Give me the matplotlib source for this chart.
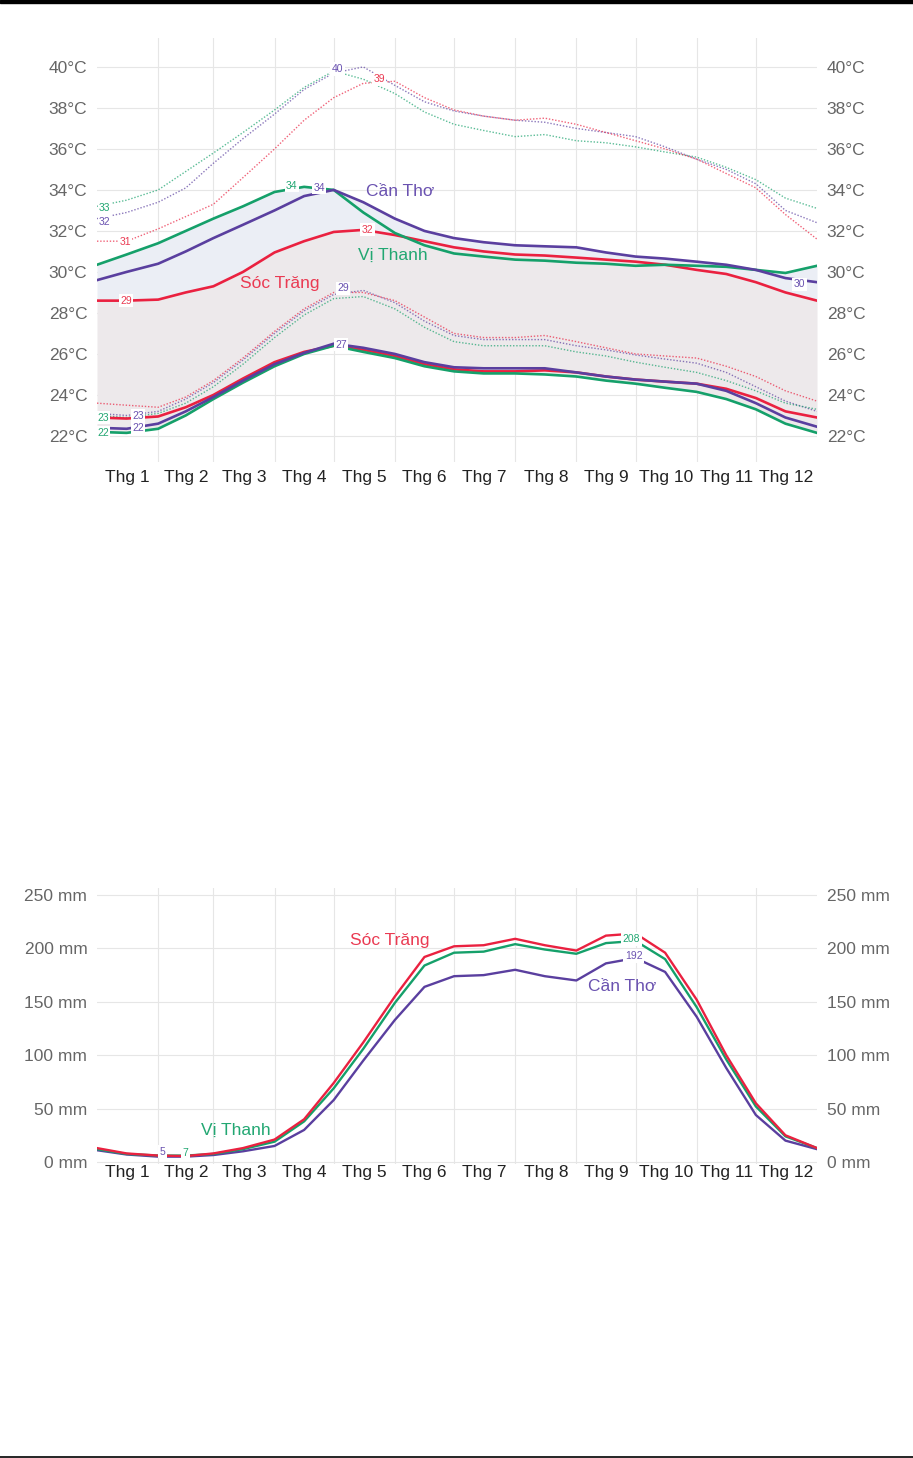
import matplotlib
matplotlib.use("Agg")
import matplotlib.pyplot as plt
import numpy as np
from matplotlib.patches import Rectangle
from matplotlib.lines import Line2D

plt.rcParams['font.family'] = ['Liberation Sans', 'DejaVu Sans']

# day of year for every reading
days = [0, 15, 31, 45, 59, 74, 90, 105, 120, 135, 151, 166, 181,
        196, 212, 227, 243, 258, 273, 288, 304, 319, 334, 349, 365]

month_starts = [0, 31, 59, 90, 120, 151, 181, 212, 243, 273, 304, 334, 365]
month_labels = ["Thg %d" % m for m in range(1, 13)]

cities = ["Cần Thơ", "Vị Thanh", "Sóc Trăng"]
colors = {"Cần Thơ": "#5a3f9f", "Vị Thanh": "#15a06a", "Sóc Trăng": "#ea2140"}
text_colors = {"Cần Thơ": "#6a52b0", "Vị Thanh": "#22a772", "Sóc Trăng": "#ea3a52"}

# average daily high (°C)
high_cantho = [29.6, 30.0, 30.4, 31.0, 31.65, 32.3, 33.0, 33.7, 34.0, 33.4, 32.6, 32.0, 31.65,
               31.45, 31.3, 31.25, 31.2, 30.95, 30.75, 30.65, 30.5, 30.35, 30.1, 29.7, 29.5]
high_vithanh = [30.35, 30.85, 31.4, 32.0, 32.6, 33.2, 33.9, 34.15, 34.0, 32.9, 31.9, 31.3, 30.9,
                30.75, 30.6, 30.55, 30.45, 30.4, 30.3, 30.35, 30.3, 30.25, 30.1, 29.95, 30.3]
high_soctrang = [28.6, 28.6, 28.65, 29.0, 29.3, 30.0, 30.95, 31.5, 31.95, 32.05, 31.8, 31.5, 31.2,
                 31.0, 30.85, 30.8, 30.7, 30.6, 30.5, 30.35, 30.1, 29.9, 29.5, 29.0, 28.6]

# average daily low (°C)
low_cantho = [22.4, 22.35, 22.6, 23.2, 23.9, 24.7, 25.5, 26.05, 26.5, 26.3, 26.0, 25.6, 25.35,
              25.3, 25.3, 25.3, 25.1, 24.9, 24.75, 24.65, 24.55, 24.2, 23.6, 22.9, 22.45]
low_vithanh = [22.2, 22.15, 22.35, 23.0, 23.8, 24.6, 25.4, 26.0, 26.4, 26.1, 25.8, 25.4, 25.15,
               25.05, 25.05, 25.0, 24.9, 24.7, 24.55, 24.35, 24.15, 23.8, 23.3, 22.6, 22.15]
low_soctrang = [22.9, 22.85, 22.95, 23.4, 24.0, 24.8, 25.6, 26.1, 26.4, 26.2, 25.9, 25.5, 25.25,
                25.15, 25.15, 25.2, 25.1, 24.9, 24.75, 24.65, 24.55, 24.3, 23.85, 23.2, 22.9]

# perceived high / low (°C)
feels_high_cantho = [32.6, 32.9, 33.4, 34.1, 35.3, 36.5, 37.7, 38.9, 39.7, 40.0, 39.1, 38.3, 37.85,
                     37.6, 37.4, 37.3, 37.0, 36.8, 36.6, 36.1, 35.5, 35.0, 34.3, 33.0, 32.4]
feels_high_vithanh = [33.2, 33.5, 34.0, 34.9, 35.8, 36.8, 37.9, 39.0, 39.8, 39.4, 38.7, 37.8, 37.2,
                      36.9, 36.6, 36.7, 36.4, 36.3, 36.1, 35.85, 35.6, 35.1, 34.5, 33.6, 33.1]
feels_high_soctrang = [31.5, 31.5, 32.1, 32.7, 33.3, 34.6, 36.0, 37.4, 38.5, 39.2, 39.3, 38.5, 37.9,
                       37.6, 37.4, 37.5, 37.2, 36.8, 36.4, 36.0, 35.5, 34.8, 34.1, 32.8, 31.6]
feels_low_cantho = [23.1, 23.0, 23.2, 23.8, 24.6, 25.7, 27.0, 28.1, 28.9, 29.1, 28.5, 27.6, 26.9,
                    26.7, 26.7, 26.7, 26.4, 26.2, 25.95, 25.75, 25.55, 25.1, 24.4, 23.7, 23.2]
feels_low_vithanh = [23.0, 22.9, 23.1, 23.6, 24.4, 25.5, 26.8, 27.9, 28.7, 28.8, 28.2, 27.3, 26.6,
                     26.4, 26.4, 26.4, 26.1, 25.9, 25.6, 25.35, 25.1, 24.7, 24.2, 23.6, 23.3]
feels_low_soctrang = [23.6, 23.5, 23.4, 23.9, 24.7, 25.8, 27.1, 28.2, 29.0, 29.0, 28.6, 27.8, 27.0,
                      26.8, 26.8, 26.9, 26.6, 26.3, 26.0, 25.9, 25.8, 25.4, 24.9, 24.2, 23.7]

# 31-day rainfall (mm)
rain_cantho = [11, 7, 5, 5, 6.5, 10, 15, 30, 58, 95, 133, 164, 174,
               175, 180, 174, 170, 186, 191, 178, 136, 88, 44, 20, 12]
rain_vithanh = [12, 7.5, 6, 6, 7.5, 12, 19, 38, 69, 106, 149, 184, 196,
                197, 204, 199, 195, 205, 207, 190, 145, 96, 52, 24, 13]
rain_soctrang = [13, 8, 6, 5.5, 8, 13, 21, 40, 74, 112, 155, 192, 202,
                 203, 209, 203, 198, 212, 214, 196, 152, 100, 55, 25, 13]

highs = {"Cần Thơ": high_cantho, "Vị Thanh": high_vithanh, "Sóc Trăng": high_soctrang}
lows = {"Cần Thơ": low_cantho, "Vị Thanh": low_vithanh, "Sóc Trăng": low_soctrang}
feels_highs = {"Cần Thơ": feels_high_cantho, "Vị Thanh": feels_high_vithanh, "Sóc Trăng": feels_high_soctrang}
feels_lows = {"Cần Thơ": feels_low_cantho, "Vị Thanh": feels_low_vithanh, "Sóc Trăng": feels_low_soctrang}
rain = {"Cần Thơ": rain_cantho, "Vị Thanh": rain_vithanh, "Sóc Trăng": rain_soctrang}

# small value labels: (city, day, value position, text)
temp_labels = [
    ("Vị Thanh", 4, 33.12, "33"), ("Cần Thơ", 4, 32.44, "32"),
    ("Sóc Trăng", 14.2, 31.46, "31"), ("Sóc Trăng", 14.7, 28.59, "29"),
    ("Vị Thanh", 98.8, 34.2, "34"), ("Cần Thơ", 112.5, 34.1, "34"),
    ("Cần Thơ", 122, 39.9, "40"), ("Sóc Trăng", 143, 39.4, "39"),
    ("Sóc Trăng", 137, 32.05, "32"), ("Cần Thơ", 124.7, 29.2, "29"),
    ("Cần Thơ", 123.7, 26.44, "27"), ("Cần Thơ", 356, 29.4, "30"),
    ("Vị Thanh", 3, 22.88, "23"), ("Vị Thanh", 3, 22.15, "22"),
    ("Cần Thơ", 20.8, 22.98, "23"), ("Cần Thơ", 20.8, 22.4, "22"),
]
temp_names = [("Cần Thơ", 153.6, 33.9), ("Vị Thanh", 150, 30.83), ("Sóc Trăng", 92.8, 29.46)]

rain_labels = [("Cần Thơ", 33, 9.4, "5"), ("Vị Thanh", 45, 8.4, "7"),
               ("Vị Thanh", 271, 208.8, "208"), ("Cần Thơ", 272, 192.9, "192")]
rain_names = [("Sóc Trăng", 148.5, 207), ("Vị Thanh", 70.5, 30), ("Cần Thơ", 266, 164.8)]


def style_axis(ax, yticks, fmt):
    for s in ax.spines.values():
        s.set_visible(False)
    ax.set_xlim(0, 365)
    ax.set_xticks(month_starts[1:-1])
    ax.set_xticklabels([])
    mids = [(a + b) / 2 for a, b in zip(month_starts[:-1], month_starts[1:])]
    ax.set_xticks(mids, minor=True)
    ax.set_xticklabels(month_labels, minor=True, fontsize=12.5, color="#222222")
    ax.tick_params(axis="x", which="both", length=0)
    ax.set_yticks(yticks)
    ax.set_yticklabels([fmt % v for v in yticks], fontsize=12.5, color="#666666")
    ax.tick_params(axis="y", length=0, pad=7, labelleft=True, labelright=True)
    ax.grid(True, which="major", color="#e6e6e6", linewidth=0.8)
    ax.set_axisbelow(True)


def put_label(ax, x, y, text, color, size, box=True):
    bbox = dict(boxstyle="square,pad=0.15", fc="white", ec="none") if box else None
    ax.text(x, y, text, color=color, fontsize=size, ha="center", va="center", zorder=10,
            bbox=bbox)


fig = plt.figure(figsize=(9.13, 14.58), dpi=100)

# temperature chart
ax = fig.add_axes([97 / 913, 1 - 462 / 1458, 720 / 913, 424 / 1458])
style_axis(ax, list(range(22, 41, 2)), "%d°C")
ax.set_ylim(20.73, 41.41)
ax.tick_params(axis="x", which="minor", pad=6)

hi_max = np.max([highs[c] for c in cities], axis=0)
lo_min = np.min([lows[c] for c in cities], axis=0)
ref = np.array(high_soctrang)
ax.fill_between(days, np.minimum(ref, hi_max), hi_max, color="#ebeef5", lw=0, zorder=1)
ax.fill_between(days, lo_min, np.minimum(ref, hi_max), color="#ede9eb", lw=0, zorder=1)

for c in cities:
    ax.plot(days, feels_highs[c], color=colors[c], lw=1.0, ls=(0, (1, 1.3)), alpha=0.7, zorder=3)
    ax.plot(days, feels_lows[c], color=colors[c], lw=1.0, ls=(0, (1, 1.3)), alpha=0.7, zorder=3)
for c in ["Sóc Trăng", "Vị Thanh", "Cần Thơ"]:
    ax.plot(days, highs[c], color=colors[c], lw=1.9, zorder=4)
    ax.plot(days, lows[c], color=colors[c], lw=1.9, zorder=4)

for c, x, y, t in temp_labels:
    put_label(ax, x, y, t, text_colors[c], 7.5)
for c, x, y in temp_names:
    put_label(ax, x, y, c, text_colors[c], 12.5, box=False)

# rainfall chart
ax2 = fig.add_axes([97 / 913, 1 - 1164 / 1458, 720 / 913, 276 / 1458])
style_axis(ax2, list(range(0, 251, 50)), "%d mm")
ax2.set_ylim(-1.9, 256.6)
ax2.tick_params(axis="x", which="minor", pad=1)

for c in ["Cần Thơ", "Vị Thanh", "Sóc Trăng"]:
    ax2.plot(days, rain[c], color=colors[c], lw=1.7, zorder=4)
for c, x, y, t in rain_labels:
    put_label(ax2, x, y, t, text_colors[c], 7.5)
for c, x, y in rain_names:
    put_label(ax2, x, y, c, text_colors[c], 12.5, box=False)

# page rules
fig.patches.append(Rectangle((0, 1 - 3 / 1458), 1, 3 / 1458, transform=fig.transFigure,
                             color="black", zorder=0))
fig.lines.append(Line2D([0, 1], [1.5 / 1458, 1.5 / 1458], transform=fig.transFigure,
                        color="black", lw=1.2))

fig.savefig("out.png", dpi=100)
